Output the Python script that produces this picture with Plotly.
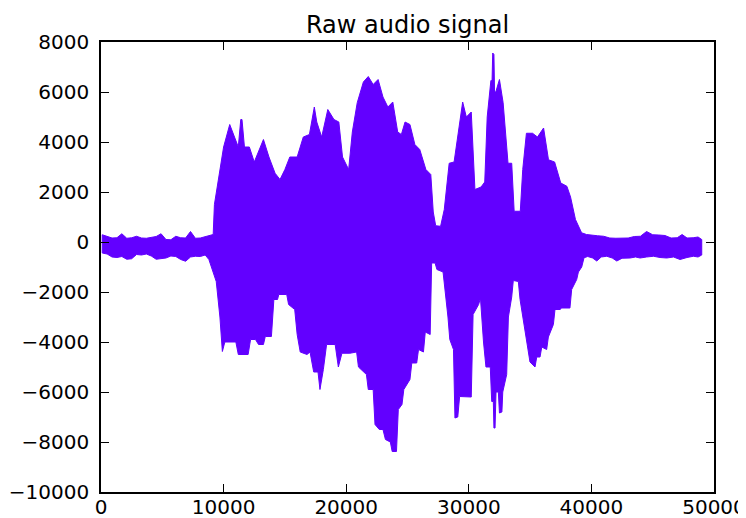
import plotly.graph_objects as go

# Upper envelope of the raw signal (sample index, amplitude)
upper_x = [100, 500, 900, 1300, 1700, 2100, 2500, 2900, 3300, 3700, 4100, 4500, 4900, 5300, 5700,
           6100, 6500, 6900, 7300, 7700, 8100, 8500, 8900,
           9150, 9250, 9600, 10000, 10500, 10900, 11200, 11400, 11500, 11700, 12100, 12500, 12900,
           13250, 13700, 14200, 14600, 15000, 15400, 16000, 16500, 17000, 17400, 17600, 18000,
           18500, 19000, 19400, 19700, 20200, 20500, 20900, 21400, 21800, 22200, 22600, 23000,
           23400, 23800, 24200, 24500, 24800, 25200, 25600, 26000, 26500, 26900, 27100, 27300,
           27700, 28000, 28400, 28800, 29100, 29500, 29800, 30200, 30500, 31000, 31300, 31500,
           31800, 31900, 31950, 32050, 32100, 32200, 32500, 32800, 33200, 33500, 33700, 34200,
           34400, 34700, 35200, 35600, 36100, 36500, 37000, 37500, 38000, 38300, 38700, 39200,
           39600, 40000, 40500, 41000, 41500, 42000, 42500, 43000, 43500, 44000, 44500, 45000,
           45500, 46000, 46500, 47000, 47400, 47800, 48300, 48700, 49000]
upper_y = [290, 230, 160, 170, 330, 150, 170, 230, 160, 150, 170, 220, 330, 100, 90,
           230, 170, 160, 420, 150, 160, 220, 250,
           300, 1500, 2500, 3800, 4700, 4200, 3800, 4900, 4900, 3800, 3800, 3200, 3700,
           4100, 3400, 2750, 2500, 2900, 3400, 3400, 4200, 4300, 5400, 4800, 4200,
           5300, 4900, 4800, 3400, 2900, 4400, 5570, 6400, 6620, 6300, 6500, 5800,
           5400, 5600, 4400, 4300, 4800, 4700, 3900, 3700, 2900, 2700, 1200, 650,
           630, 1300, 3150, 3200, 4200, 5600, 5000, 5200, 2100, 2200, 2400, 5000,
           6450, 6500, 7560, 7500, 6000, 6000, 6500, 5570, 3150, 3150, 1230, 1230,
           2900, 4350, 4350, 4200, 4560, 3290, 3200, 2360, 2230, 1800, 900, 370,
           300, 270, 250, 230, 160, 150, 170, 160, 220, 230, 420, 290,
           280, 260, 160, 170, 300, 160, 170, 200, 100]

# Lower envelope of the raw signal (sample index, amplitude)
lower_x = [100, 500, 900, 1300, 1700, 2100, 2500, 2900, 3300, 3700, 4100, 4500, 4900, 5300, 5700,
           6100, 6500, 6900, 7300, 7700, 8100, 8500, 8800, 9100, 9400, 9700, 9900, 10100, 11000,
           11200, 12000, 12200, 12600, 12850, 13250, 13400, 13900, 14100, 14400, 14500, 15150,
           15300, 15800, 16000, 16250, 16800, 17050, 17350, 17700, 17860, 18136, 18400, 19100,
           19360, 19650, 20300, 20850, 21000, 21650, 21800, 22200, 22350, 22700, 23000, 23200,
           23600, 23750, 24100, 24250, 24550, 24700, 25200, 25350, 25750, 25900, 26300, 26450,
           26850, 26970, 27250, 27400, 27900, 28050, 28300, 28450, 28750, 28870, 29100, 29250,
           29600, 30200, 30350, 30800, 30950, 31050, 31200, 31400, 31750, 31870, 32000, 32050,
           32140, 32220, 32410, 32500, 32700, 32770, 33090, 33230, 33500, 33630, 34040, 34180,
           34450, 34580, 34860, 34990, 35400, 35540, 35810, 35950, 36350, 36490, 36900, 37030,
           37440, 37580, 38250, 38390, 38800, 38940, 39210, 39400, 39700, 40100, 40440, 40800,
           41250, 41700, 42070, 42500, 43160, 43600, 43970, 44500, 45060, 45600, 46140, 46700,
           47230, 47800, 48320, 48700, 49000]
lower_y = [-440, -480, -600, -620, -580, -690, -670, -500, -520, -480, -560, -690, -680, -640, -560,
           -580, -700, -770, -600, -570, -580, -520, -700, -1100, -1580, -3000, -4380, -4000, -4000,
           -4500, -4500, -3900, -3900, -4100, -4100, -3780, -3780, -2300, -2300, -2100, -2100,
           -2500, -2700, -3700, -4400, -4500, -4400, -5200, -5200, -5900, -5100, -4100, -4100,
           -5000, -4450, -4450, -4400, -5000, -5300, -5900, -5900, -7300, -7500, -7500, -7900,
           -8000, -8380, -8380, -6700, -6500, -5900, -5500, -4840, -4840, -4300, -4400, -3600,
           -3700, -840, -840, -1100, -1200, -2000, -3000, -3900, -4300, -7040, -7000, -6180,
           -6200, -6200, -2900, -2500, -2240, -2600, -4000, -5000, -5000, -6380, -6380, -7440,
           -7440, -6000, -6000, -6840, -6800, -6000, -5300, -3000, -2200, -1540, -1580, -2300,
           -3300, -3700, -4400, -4800, -5000, -4600, -4600, -4200, -4300, -3800, -3300, -2700,
           -2700, -2640, -2640, -1900, -1500, -1200, -1000, -630, -580, -640, -760, -600,
           -570, -640, -760, -650, -640, -600, -640, -600, -570, -620, -640, -600,
           -700, -620, -570, -600, -520]

x_ticks = [0, 10000, 20000, 30000, 40000, 50000]
x_ticktext = ["0", "10000", "20000", "30000", "40000", "50000"]
y_ticks = [-10000, -8000, -6000, -4000, -2000, 0, 2000, 4000, 6000, 8000]
y_ticktext = ["\u221210000", "\u22128000", "\u22126000", "\u22124000", "\u22122000",
              "0", "2000", "4000", "6000", "8000"]

COLOR = "#6200ff"
FONT = "DejaVu Sans"

poly_x = upper_x + lower_x[::-1] + [upper_x[0]]
poly_y = upper_y + lower_y[::-1] + [upper_y[0]]

fig = go.Figure(go.Scatter(
    x=poly_x, y=poly_y, mode="lines", fill="toself",
    fillcolor=COLOR, line=dict(color=COLOR, width=1), hoverinfo="skip",
    showlegend=False))

axis_common = dict(
    ticks="inside", ticklen=8, tickwidth=1, tickcolor="black",
    showline=True, linecolor="black", linewidth=1.5, mirror="ticks",
    showgrid=False, zeroline=False, automargin=False,
    tickfont=dict(family=FONT, size=20, color="black"),
)

# The page body has an 8px default margin, so the figure is sized to compensate.
fig.update_layout(
    width=738, height=510,
    margin=dict(l=93, r=32, t=34, b=26),
    paper_bgcolor="white", plot_bgcolor="white",
    title=dict(text="Raw audio signal", x=0.5, xref="paper", xanchor="center",
               y=1 - 17 / 510, yref="container", yanchor="middle", automargin=False,
               font=dict(family=FONT, size=24, color="black")),
    xaxis=dict(range=[0, 50000], tickvals=x_ticks, ticktext=x_ticktext,
               ticklabelstandoff=-4, **axis_common),
    yaxis=dict(range=[-10000, 8000], tickvals=y_ticks, ticktext=y_ticktext,
               ticklabelstandoff=6, **axis_common),
)

fig.write_html("out.html")
